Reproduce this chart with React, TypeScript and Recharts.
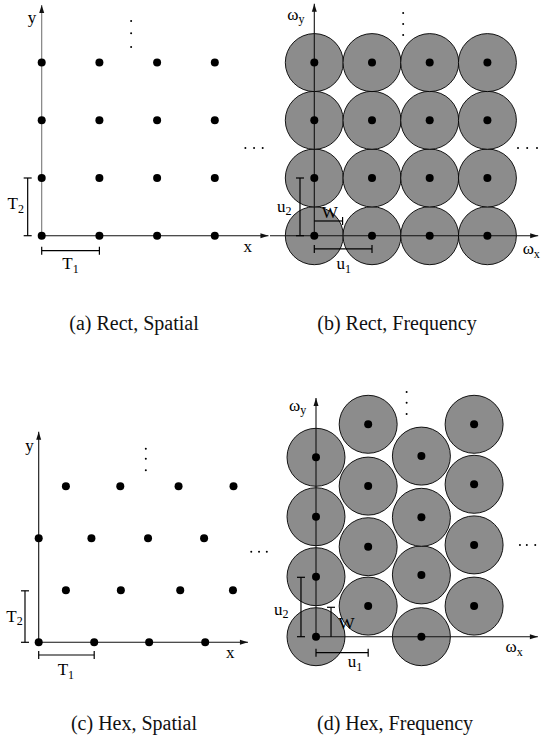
import { ScatterChart, Scatter, XAxis, YAxis } from 'recharts'

type Pt = { x: number; y: number }
type Lbl = Pt & { main: string; sub?: string }

// sample points, in units of the sampling period (T1/T2 or u1/u2)
const rectLattice: Pt[] = [
  { x: 0, y: 0 }, { x: 1, y: 0 }, { x: 2, y: 0 }, { x: 3, y: 0 },
  { x: 0, y: 1 }, { x: 1, y: 1 }, { x: 2, y: 1 }, { x: 3, y: 1 },
  { x: 0, y: 2 }, { x: 1, y: 2 }, { x: 2, y: 2 }, { x: 3, y: 2 },
  { x: 0, y: 3 }, { x: 1, y: 3 }, { x: 2, y: 3 }, { x: 3, y: 3 },
]

const hexSpatial: Pt[] = [
  { x: 0, y: 0 }, { x: 1, y: 0 }, { x: 1.99, y: 0 }, { x: 3, y: 0 },
  { x: 0.49, y: 1 }, { x: 1.48, y: 1 }, { x: 2.55, y: 1 }, { x: 3.5, y: 1 },
  { x: 0, y: 2 }, { x: 0.95, y: 2 }, { x: 1.97, y: 2 }, { x: 2.98, y: 2 },
  { x: 0.49, y: 3 }, { x: 1.47, y: 3 }, { x: 2.52, y: 3 }, { x: 3.51, y: 3 },
]

const hexFreq: Pt[] = [
  { x: 0, y: 0 }, { x: 0, y: 1 }, { x: 0, y: 2 }, { x: 0, y: 2.99 },
  { x: 0.99, y: 0.51 }, { x: 0.99, y: 1.5 }, { x: 0.99, y: 2.51 }, { x: 0.99, y: 3.54 },
  { x: 2.0, y: 0 }, { x: 2.0, y: 1.03 }, { x: 2.0, y: 1.99 }, { x: 2.0, y: 3.01 },
  { x: 3.0, y: 0.51 }, { x: 3.0, y: 1.53 }, { x: 3.0, y: 2.54 }, { x: 3.0, y: 3.54 },
]

// (a) rect, spatial
const aXAxis: Pt[] = [{ x: 0, y: 0 }, { x: 3.93, y: 0 }]
const aYAxis: Pt[] = [{ x: 0, y: 0 }, { x: 0, y: 4.0 }]
const aT1: Pt[] = [{ x: 0, y: -0.26 }, { x: 1, y: -0.26 }]
const aT2: Pt[] = [{ x: -0.243, y: 0 }, { x: -0.243, y: 1 }]
const aLabels: Lbl[] = [
  { x: -0.17, y: 3.78, main: 'y' },
  { x: 3.57, y: -0.19, main: 'x' },
  { x: -0.45, y: 0.55, main: 'T', sub: '2' },
  { x: 0.5, y: -0.49, main: 'T', sub: '1' },
]
const aVDots: Pt[] = [{ x: 1.55, y: 3.72 }, { x: 1.55, y: 3.51 }, { x: 1.55, y: 3.27 }]
const aHDots: Pt[] = [{ x: 3.53, y: 1.52 }, { x: 3.68, y: 1.52 }, { x: 3.83, y: 1.52 }]

// (b) rect, frequency
const bXAxis: Pt[] = [{ x: -0.77, y: 0 }, { x: 3.88, y: 0 }]
const bYAxis: Pt[] = [{ x: 0, y: 0 }, { x: 0, y: 4.02 }]
const bU1: Pt[] = [{ x: 0, y: -0.23 }, { x: 1, y: -0.23 }]
const bU2: Pt[] = [{ x: -0.248, y: 0 }, { x: -0.248, y: 1 }]
const bW: Pt[] = [{ x: 0, y: 0.255 }, { x: 0.49, y: 0.255 }]
const bLabels: Lbl[] = [
  { x: -0.32, y: 3.84, main: 'ω', sub: 'y' },
  { x: 3.76, y: -0.23, main: 'ω', sub: 'x' },
  { x: -0.52, y: 0.51, main: 'u', sub: '2' },
  { x: 0.27, y: 0.41, main: 'W' },
  { x: 0.51, y: -0.49, main: 'u', sub: '1' },
]
const bVDots: Pt[] = [{ x: 1.54, y: 3.86 }, { x: 1.54, y: 3.67 }, { x: 1.54, y: 3.48 }]
const bHDots: Pt[] = [{ x: 3.53, y: 1.52 }, { x: 3.69, y: 1.52 }, { x: 3.86, y: 1.52 }]

// (c) hex, spatial
const cXAxis: Pt[] = [{ x: 0, y: 0 }, { x: 3.77, y: 0 }]
const cYAxis: Pt[] = [{ x: 0, y: 0 }, { x: 0, y: 4.05 }]
const cT1: Pt[] = [{ x: 0, y: -0.244 }, { x: 1, y: -0.244 }]
const cT2: Pt[] = [{ x: -0.247, y: 0 }, { x: -0.247, y: 0.99 }]
const cLabels: Lbl[] = [
  { x: -0.165, y: 3.79, main: 'y' },
  { x: 3.45, y: -0.196, main: 'x' },
  { x: -0.435, y: 0.5, main: 'T', sub: '2' },
  { x: 0.49, y: -0.53, main: 'T', sub: '1' },
]
const cVDots: Pt[] = [{ x: 1.93, y: 3.72 }, { x: 1.93, y: 3.53 }, { x: 1.93, y: 3.31 }]
const cHDots: Pt[] = [{ x: 3.83, y: 1.74 }, { x: 3.97, y: 1.74 }, { x: 4.11, y: 1.74 }]

// (d) hex, frequency
const dXAxis: Pt[] = [{ x: 0, y: 0 }, { x: 4.21, y: 0 }]
const dYAxis: Pt[] = [{ x: 0, y: 0 }, { x: 0, y: 3.98 }]
const dU1: Pt[] = [{ x: 0, y: -0.267 }, { x: 0.99, y: -0.267 }]
const dU2: Pt[] = [{ x: -0.285, y: 0 }, { x: -0.285, y: 0.99 }]
const dW: Pt[] = [{ x: 0.285, y: 0 }, { x: 0.285, y: 0.49 }]
const dLabels: Lbl[] = [
  { x: -0.35, y: 3.86, main: 'ω', sub: 'y' },
  { x: 3.76, y: -0.17, main: 'ω', sub: 'x' },
  { x: -0.66, y: 0.46, main: 'u', sub: '2' },
  { x: 0.58, y: 0.22, main: 'W' },
  { x: 0.74, y: -0.42, main: 'u', sub: '1' },
]
const dVDots: Pt[] = [{ x: 1.72, y: 4.08 }, { x: 1.72, y: 3.9 }, { x: 1.72, y: 3.71 }]
const dHDots: Pt[] = [{ x: 3.87, y: 1.53 }, { x: 4.0, y: 1.53 }, { x: 4.16, y: 1.53 }]

const captions = ['(a) Rect, Spatial', '(b) Rect, Frequency', '(c) Hex, Spatial', '(d) Hex, Frequency']

const FONT = 'Liberation Serif, DejaVu Serif, serif'
const INK = '#111'

const none = () => <g />
const dot = (p: any) => <circle cx={p.cx} cy={p.cy} r={4} fill="#000" />
const tiny = (p: any) => <circle cx={p.cx} cy={p.cy} r={1} fill="#000" />
const disc = (p: any) => <circle cx={p.cx} cy={p.cy} r={29} fill="#8c8c8c" stroke="#000" strokeWidth={0.9} />
const arrowUp = (p: any) => (
  <polygon points={`${p.cx},${p.cy} ${p.cx - 2.5},${p.cy + 8} ${p.cx + 2.5},${p.cy + 8}`} fill={INK} />
)
const arrowRight = (p: any) => (
  <polygon points={`${p.cx},${p.cy} ${p.cx - 8},${p.cy - 2.5} ${p.cx - 8},${p.cy + 2.5}`} fill={INK} />
)
const capH = (p: any) => <line x1={p.cx - 4} x2={p.cx + 4} y1={p.cy} y2={p.cy} stroke="#000" strokeWidth={1.2} />
const capV = (p: any) => <line x1={p.cx} x2={p.cx} y1={p.cy - 4} y2={p.cy + 4} stroke="#000" strokeWidth={1.2} />
const label = (p: any) => (
  <text x={p.cx} y={p.cy} textAnchor="middle" dominantBaseline="central" fontFamily={FONT} fontSize={17} fill="#000">
    {p.payload.main}
    {p.payload.sub && (
      <tspan fontSize={12} dy={5}>
        {p.payload.sub}
      </tspan>
    )}
  </text>
)

type Bracket = { pts: Pt[]; vertical: boolean; endOnly?: boolean }

type PanelSpec = {
  left: number
  top: number
  width: number
  height: number
  ox: number
  oy: number
  ux: number
  uy: number
  dots: Pt[]
  circles?: Pt[]
  xAxis: Pt[]
  yAxis: Pt[]
  yAxisColor?: string
  brackets: Bracket[]
  labels: Lbl[]
  vDots: Pt[]
  hDots: Pt[]
}

const panels: PanelSpec[] = [
  {
    left: 0, top: 0, width: 270, height: 290, ox: 41.7, oy: 235.7, ux: 57.7, uy: 57.7,
    dots: rectLattice, xAxis: aXAxis, yAxis: aYAxis, yAxisColor: '#777',
    brackets: [{ pts: aT1, vertical: false }, { pts: aT2, vertical: true }],
    labels: aLabels, vDots: aVDots, hDots: aHDots,
  },
  {
    left: 270, top: 0, width: 273, height: 290, ox: 44.3, oy: 235.7, ux: 57.7, uy: 57.7,
    dots: rectLattice, circles: rectLattice, xAxis: bXAxis, yAxis: bYAxis,
    brackets: [
      { pts: bU1, vertical: false },
      { pts: bU2, vertical: true },
      { pts: bW, vertical: false, endOnly: true },
    ],
    labels: bLabels, vDots: bVDots, hDots: bHDots,
  },
  {
    left: 0, top: 370, width: 270, height: 320, ox: 38.7, oy: 272.3, ux: 55.5, uy: 52,
    dots: hexSpatial, xAxis: cXAxis, yAxis: cYAxis,
    brackets: [{ pts: cT1, vertical: false }, { pts: cT2, vertical: true }],
    labels: cLabels, vDots: cVDots, hDots: cHDots,
  },
  {
    left: 270, top: 370, width: 273, height: 320, ox: 46, oy: 266.7, ux: 52.7, uy: 60,
    dots: hexFreq, circles: hexFreq, xAxis: dXAxis, yAxis: dYAxis,
    brackets: [
      { pts: dU1, vertical: false },
      { pts: dU2, vertical: true },
      { pts: dW, vertical: true, endOnly: true },
    ],
    labels: dLabels, vDots: dVDots, hDots: dHDots,
  },
]

function Panel({ spec }: { spec: PanelSpec }) {
  const { width, height, ox, oy, ux, uy } = spec
  const xDomain = [-ox / ux, (width - ox) / ux]
  const yDomain = [-(height - oy) / uy, oy / uy]
  return (
    <div style={{ position: 'absolute', left: spec.left, top: spec.top }}>
      <ScatterChart width={width} height={height} margin={{ top: 0, right: 0, bottom: 0, left: 0 }}>
        <XAxis type="number" dataKey="x" domain={xDomain} hide allowDataOverflow />
        <YAxis type="number" dataKey="y" domain={yDomain} hide allowDataOverflow />
        {spec.circles && <Scatter data={spec.circles} shape={disc} isAnimationActive={false} />}
        <Scatter
          data={spec.yAxis}
          fill={spec.yAxisColor ?? INK}
          line={{ stroke: spec.yAxisColor ?? INK, strokeWidth: 1.1 }}
          shape={none}
          isAnimationActive={false}
        />
        <Scatter data={spec.yAxis.slice(1)} shape={arrowUp} isAnimationActive={false} />
        <Scatter data={spec.xAxis} fill={INK} line={{ stroke: INK, strokeWidth: 1.1 }} shape={none} isAnimationActive={false} />
        <Scatter data={spec.xAxis.slice(1)} shape={arrowRight} isAnimationActive={false} />
        {spec.brackets.map((b, i) => (
          <Scatter
            key={`bl${i}`}
            data={b.pts}
            fill="#000"
            line={{ stroke: '#000', strokeWidth: 1.2 }}
            shape={none}
            isAnimationActive={false}
          />
        ))}
        {spec.brackets.map((b, i) => (
          <Scatter
            key={`bc${i}`}
            data={b.endOnly ? b.pts.slice(1) : b.pts}
            shape={b.vertical ? capH : capV}
            isAnimationActive={false}
          />
        ))}
        <Scatter data={spec.dots} shape={dot} isAnimationActive={false} />
        <Scatter data={spec.vDots} shape={tiny} isAnimationActive={false} />
        <Scatter data={spec.hDots} shape={tiny} isAnimationActive={false} />
        <Scatter data={spec.labels} shape={label} isAnimationActive={false} />
      </ScatterChart>
    </div>
  )
}

const captionPos = [
  { cx: 134, top: 313 },
  { cx: 397, top: 313 },
  { cx: 134, top: 713 },
  { cx: 395, top: 713 },
]

export default function App() {
  return (
    <div style={{ position: 'absolute', left: 0, top: 0, width: 543, height: 742, background: '#fff' }}>
      {panels.map((p, i) => (
        <Panel key={i} spec={p} />
      ))}
      {captions.map((c, i) => (
        <div
          key={c}
          style={{
            position: 'absolute',
            left: captionPos[i].cx - 110,
            top: captionPos[i].top,
            width: 220,
            textAlign: 'center',
            fontFamily: FONT,
            fontSize: 20,
            lineHeight: '20px',
            color: '#111',
            whiteSpace: 'nowrap',
          }}
        >
          {c}
        </div>
      ))}
    </div>
  )
}
